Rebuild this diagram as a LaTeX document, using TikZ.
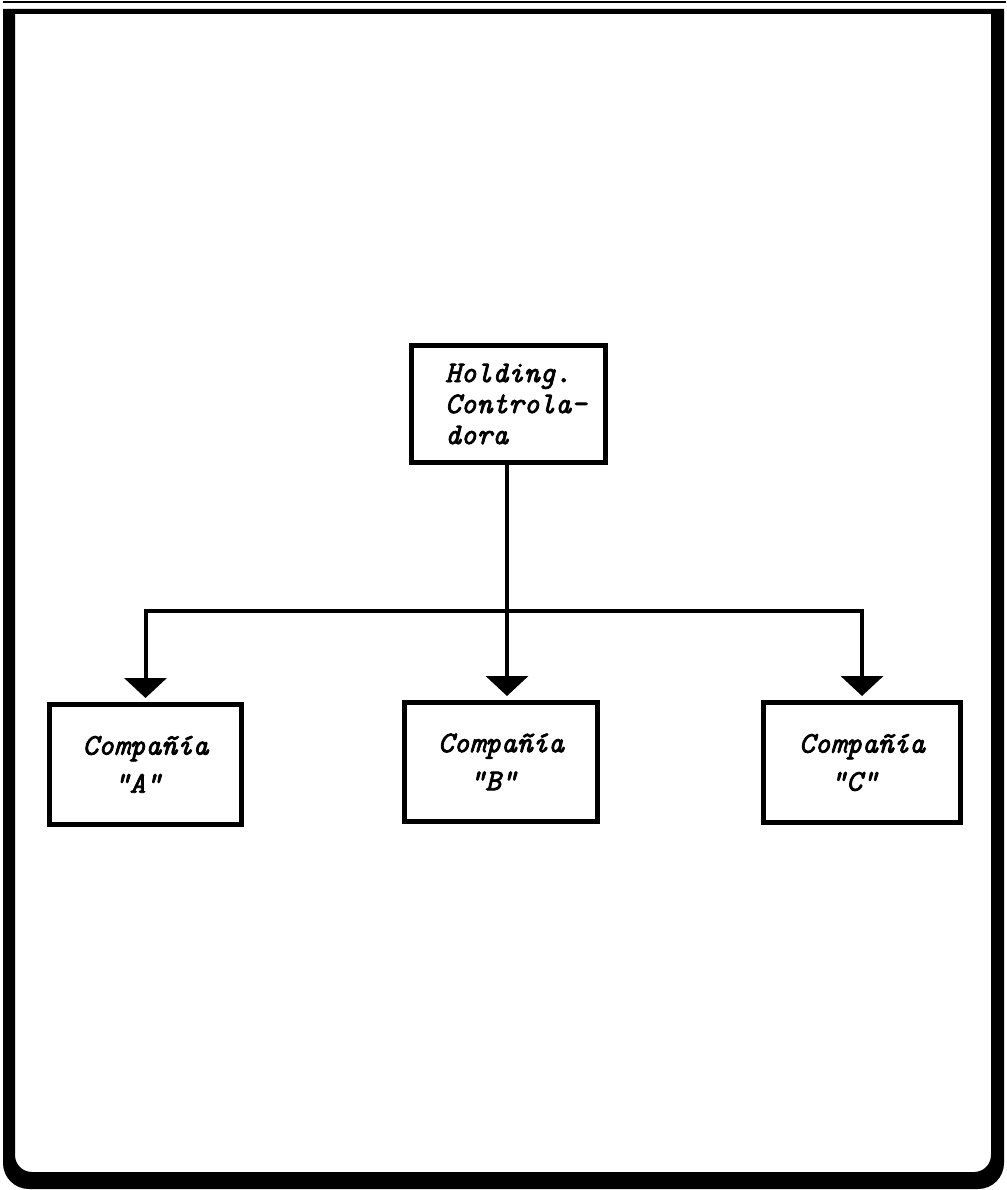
\documentclass[tikz,border=0pt]{standalone}
\usepackage{fontspec}
\newfontfamily\typescript{lmmono10-italic}[Extension=.otf,FakeBold=2.5]
\usetikzlibrary{arrows.meta}
\tikzset{
  orgbox/.style={draw=black, line width=5pt, fill=white, inner sep=0pt,
    align=left, font=\typescript\fontsize{30}{38}\selectfont},
  boxtext/.style={align=left, inner sep=0pt, font=\typescript\fontsize{30}{31}\selectfont},
  link/.style={line width=4pt},
  linkarrow/.style={link, -{Triangle[width=42pt,length=20pt]}, shorten >=4pt},
}
\begin{document}
\begin{tikzpicture}[x=1pt,y=-1pt]
\useasboundingbox (0,0) rectangle (1006,1190);
\fill[white] (0,0) rectangle (1006,1190);

% page frame: heavy border with rounded lower corners
\fill[black, even odd rule]
  (3,9) -- (1004,9) -- (1004,1163)
    .. controls (1004,1177.4) and (992.4,1189) .. (978,1189)
  -- (29,1189) .. controls (14.6,1189) and (3,1177.4) .. (3,1163) -- cycle
  (15,14) -- (991,14) -- (991,1155)
    .. controls (991,1164.4) and (983.4,1172) .. (974,1172)
  -- (32,1172) .. controls (22.6,1172) and (15,1164.4) .. (15,1155) -- cycle;
\draw[line width=2pt] (3,2.5) -- (1006,2.5);

% holding company
\node[orgbox, minimum width=194pt, minimum height=117pt] (H) at (508.5,404) {};
\node[boxtext, xshift=7.5pt] (Htext) at (H.center) {Holding.\\Controla-\\dora};

% subsidiaries
\node[orgbox, minimum width=192pt, minimum height=120pt] (A) at (145.5,764.5)
  {Compañía\\\phantom{Co}"A"};
\node[orgbox, minimum width=193pt, minimum height=119pt] (B) at (501,762)
  {Compañía\\\phantom{Co}"B"};
\node[orgbox, minimum width=197pt, minimum height=120pt] (C) at (862,762.5)
  {Compañía\\\phantom{Co}"C"};

% connectors
\coordinate (bus) at (507,611);
\draw[linkarrow] ([xshift=-1.5pt]H.south) -- ([xshift=-1.5pt]H.south |- B.north);
\draw[linkarrow] (bus) -| (A.north);
\draw[linkarrow] (bus) -| (C.north);
\end{tikzpicture}
\end{document}
